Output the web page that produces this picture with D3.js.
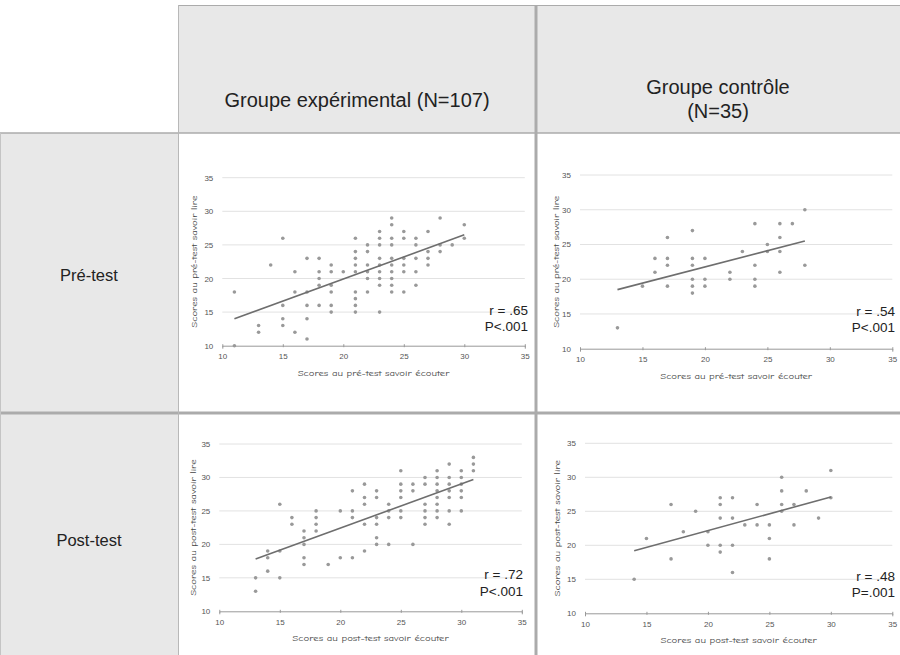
<!DOCTYPE html>
<html>
<head>
<meta charset="utf-8">
<script src="https://cdn.jsdelivr.net/npm/d3@7/dist/d3.min.js"></script>
<style>
  html, body { margin: 0; padding: 0; background: #fff; }
  svg { display: block; }
</style>
</head>
<body>
<svg id="chart" width="900" height="655"></svg>
<script>
// ---------------- DATA ----------------
const columnHeaders = [["Groupe expérimental (N=107)"], ["Groupe contrôle", "(N=35)"]];
const rowHeaders = ["Pré-test", "Post-test"];
const xTicks = [10, 15, 20, 25, 30, 35];
const yTicks = [10, 15, 20, 25, 30, 35];

// Experimental group, pre-test [listening, reading]
const expPre = [
  [11,18],[11,10],[13,13],[13,12],[14,22],[15,26],[15,16],[15,14],[15,13],
  [16,21],[16,18],[16,12],[17,23],[17,18],[17,16],[17,14],[17,11],
  [18,23],[18,21],[18,20],[18,19],[18,16],
  [19,22],[19,21],[19,19],[19,18],[19,16],[19,15],[20,21],
  [21,26],[21,24],[21,23],[21,22],[21,21],[21,18],[21,17],[21,16],[21,15],
  [22,25],[22,24],[22,22],[22,21],[22,20],[22,18],
  [23,27],[23,26],[23,25],[23,23],[23,22],[23,21],[23,20],[23,19],[23,15],
  [24,29],[24,28],[24,26],[24,25],[24,23],[24,22],[24,21],[24,20],[24,19],[24,18],
  [25,27],[25,26],[25,23],[25,22],[25,21],[25,18],
  [26,26],[26,25],[26,23],[26,21],[26,19],
  [27,27],[27,24],[27,23],[27,22],
  [28,29],[28,25],[28,24],[29,25],[30,28],[30,26]
];
const expPreTrend = [[11,14],[30,26.5]];
const expPreStats = ["r = .65", "P<.001"];

// Control group, pre-test
const ctlPre = [
  [13,13],[15,19],[16,23],[16,21],[17,26],[17,23],[17,22],[17,19],
  [19,27],[19,23],[19,22],[19,20],[19,19],[19,18],
  [20,23],[20,20],[20,19],[22,21],[22,20],[23,24],
  [24,28],[24,22],[24,20],[24,19],[25,25],[25,24],
  [26,28],[26,26],[26,24],[26,21],[27,28],[28,30],[28,22]
];
const ctlPreTrend = [[13,18.5],[28,25.5]];
const ctlPreStats = ["r = .54", "P<.001"];

// Experimental group, post-test
const expPost = [
  [13,15],[13,13],[14,19],[14,18],[14,16],[15,26],[15,19],[15,15],
  [16,24],[16,23],[17,22],[17,21],[17,20],[17,18],[17,17],
  [18,25],[18,24],[18,23],[18,22],[19,17],[20,25],[20,18],
  [21,28],[21,25],[21,24],[21,18],
  [22,29],[22,27],[22,26],[22,23],[22,19],
  [23,28],[23,27],[23,24],[23,23],[23,21],[23,20],
  [24,26],[24,25],[24,24],[24,20],
  [25,31],[25,29],[25,28],[25,27],[25,25],[25,24],
  [26,29],[26,28],[26,20],
  [27,30],[27,29],[27,26],[27,25],[27,24],[27,23],
  [28,31],[28,30],[28,29],[28,28],[28,27],[28,26],[28,25],[28,24],
  [29,32],[29,30],[29,29],[29,28],[29,27],[29,25],[29,23],
  [30,31],[30,30],[30,29],[30,28],[30,27],[30,25],
  [31,33],[31,32],[31,31]
];
const expPostTrend = [[13,17.8],[31,29.7]];
const expPostStats = ["r = .72", "P<.001"];

// Control group, post-test
const ctlPost = [
  [14,15],[15,21],[17,26],[17,18],[18,22],[19,25],[20,22],[20,20],
  [21,27],[21,26],[21,24],[21,20],[21,19],
  [22,27],[22,24],[22,20],[22,16],[23,23],[24,26],[24,23],
  [25,23],[25,21],[25,18],[26,30],[26,28],[26,26],[26,25],
  [27,26],[27,23],[28,28],[29,24],[30,31],[30,27]
];
const ctlPostTrend = [[14,19.2],[30,27.1]];
const ctlPostStats = ["r = .48", "P=.001"];

const xTitles = ["Scores au pré-test savoir écouter", "Scores au post-test savoir écouter"];
const yTitles = ["Scores au pré-test savoir lire", "Scores au post-test savoir lire"];

// ---------------- LAYOUT ----------------
const svg = d3.select("#chart");
const W = 900, H = 655;
const colX = [0, 178, 536, 900];
const rowY = [5, 133, 413, 655];
const cellGray = "#e8e8e8";
const lineGray = "#ababab";

// backgrounds
svg.append("rect").attr("x", colX[1]).attr("y", rowY[0]).attr("width", W - colX[1]).attr("height", rowY[1] - rowY[0]).attr("fill", cellGray);
svg.append("rect").attr("x", 0).attr("y", rowY[1]).attr("width", colX[1]).attr("height", H - rowY[1]).attr("fill", cellGray);

// header text
const headerFont = "'Liberation Sans', Arial, Helvetica, sans-serif";
svg.append("text").attr("x", (colX[1] + colX[2]) / 2).attr("y", 107)
  .attr("text-anchor", "middle").attr("font-family", headerFont).attr("font-size", 20).attr("fill", "#222")
  .text(columnHeaders[0][0]);
columnHeaders[1].forEach((t, i) => {
  svg.append("text").attr("x", (colX[2] + colX[3]) / 2).attr("y", 94 + i * 24)
    .attr("text-anchor", "middle").attr("font-family", headerFont).attr("font-size", 20).attr("fill", "#222")
    .text(t);
});
rowHeaders.forEach((t, i) => {
  svg.append("text").attr("x", colX[1] / 2).attr("y", i === 0 ? 281 : 546)
    .attr("text-anchor", "middle").attr("font-family", headerFont).attr("font-size", 16.5).attr("fill", "#222")
    .text(t);
});

// ---------------- PANELS ----------------
const panels = [
  {data: expPre, trend: expPreTrend, stats: expPreStats, xt: xTitles[0], yt: yTitles[0],
   left: 222.3, right: 524.8, top: 177.7, bottom: 345.7, ytx: 194, sr: 528, sy: [315, 330.5]},
  {data: ctlPre, trend: ctlPreTrend, stats: ctlPreStats, xt: xTitles[0], yt: yTitles[0],
   left: 580, right: 892.3, top: 175, bottom: 348.7, ytx: 556, sr: 895, sy: [316, 331.5]},
  {data: expPost, trend: expPostTrend, stats: expPostStats, xt: xTitles[1], yt: yTitles[1],
   left: 219.3, right: 521.8, top: 444, bottom: 611.3, ytx: 193, sr: 523, sy: [579, 595.5]},
  {data: ctlPost, trend: ctlPostTrend, stats: ctlPostStats, xt: xTitles[1], yt: yTitles[1],
   left: 585, right: 892.3, top: 443.3, bottom: 613.3, ytx: 557, sr: 895, sy: [580.5, 596.5]}
];

const titleFont = "'Comic Sans MS', 'Comic Neue', 'DejaVu Sans', sans-serif";

panels.forEach(p => {
  const x = d3.scaleLinear().domain([10, 35]).range([p.left, p.right]);
  const y = d3.scaleLinear().domain([10, 35]).range([p.bottom, p.top]);
  const g = svg.append("g");

  // horizontal gridlines
  g.selectAll("line.grid").data(yTicks.filter(v => v > 10)).join("line")
    .attr("x1", x(10)).attr("x2", x(35))
    .attr("y1", d => y(d)).attr("y2", d => y(d))
    .attr("stroke", "#e2e2e2").attr("stroke-width", 1);

  // y tick labels
  g.selectAll("text.ytick").data(yTicks).join("text")
    .attr("x", x(10) - 9).attr("y", d => y(d) + 3)
    .attr("text-anchor", "end").attr("font-family", headerFont).attr("font-size", 8).attr("fill", "#555")
    .text(d => d);

  // x axis
  const xAxis = d3.axisBottom(x).tickValues(xTicks).tickSize(3).tickPadding(5);
  const ax = g.append("g").attr("transform", `translate(0,${y(10)})`).call(xAxis);
  ax.select(".domain").attr("stroke", "#999");
  ax.selectAll(".tick line").attr("stroke", "#999").attr("transform", "translate(0,-1.5)");
  ax.selectAll(".tick text").attr("font-family", headerFont).attr("font-size", 8).attr("fill", "#555");

  // axis titles
  g.append("text").attr("x", (p.left + p.right) / 2).attr("y", y(10) + 30)
    .attr("text-anchor", "middle").attr("font-family", titleFont).attr("font-size", 8.5).attr("fill", "#444")
    .attr("textLength", p.xt.length * 4.6).attr("lengthAdjust", "spacingAndGlyphs")
    .text(p.xt);
  g.append("text").attr("transform", `translate(${p.ytx + 3},${(p.top + p.bottom) / 2}) rotate(-90)`)
    .attr("text-anchor", "middle").attr("font-family", titleFont).attr("font-size", 8.5).attr("fill", "#444")
    .attr("textLength", p.yt.length * 4.4).attr("lengthAdjust", "spacingAndGlyphs")
    .text(p.yt);

  // points
  g.selectAll("circle").data(p.data).join("circle")
    .attr("cx", d => x(d[0])).attr("cy", d => y(d[1])).attr("r", 1.8)
    .attr("fill", "#999");

  // trend line
  g.append("line")
    .attr("x1", x(p.trend[0][0])).attr("y1", y(p.trend[0][1]))
    .attr("x2", x(p.trend[1][0])).attr("y2", y(p.trend[1][1]))
    .attr("stroke", "#6e6e6e").attr("stroke-width", 1.6);

  // stats text
  p.stats.forEach((t, i) => {
    g.append("text").attr("x", p.sr).attr("y", p.sy[i])
      .attr("text-anchor", "end").attr("font-family", headerFont).attr("font-size", 13.5).attr("fill", "#222")
      .text(t);
  });
});

// ---------------- GRID LINES ----------------
svg.append("line").attr("x1", colX[1]).attr("x2", W).attr("y1", rowY[0] + 0.5).attr("y2", rowY[0] + 0.5).attr("stroke", lineGray).attr("stroke-width", 1);
svg.append("line").attr("x1", 0).attr("x2", W).attr("y1", rowY[1]).attr("y2", rowY[1]).attr("stroke", lineGray).attr("stroke-width", 1.3);
svg.append("line").attr("x1", 0).attr("x2", W).attr("y1", rowY[2]).attr("y2", rowY[2]).attr("stroke", lineGray).attr("stroke-width", 3);
svg.append("line").attr("x1", colX[1] + 0.5).attr("x2", colX[1] + 0.5).attr("y1", rowY[0]).attr("y2", H).attr("stroke", "#b8b8b8").attr("stroke-width", 1);
svg.append("line").attr("x1", colX[2]).attr("x2", colX[2]).attr("y1", rowY[0]).attr("y2", H).attr("stroke", lineGray).attr("stroke-width", 3);
svg.append("line").attr("x1", 0.5).attr("x2", 0.5).attr("y1", rowY[1]).attr("y2", H).attr("stroke", "#c4c4c4").attr("stroke-width", 1);
</script>
</body>
</html>
